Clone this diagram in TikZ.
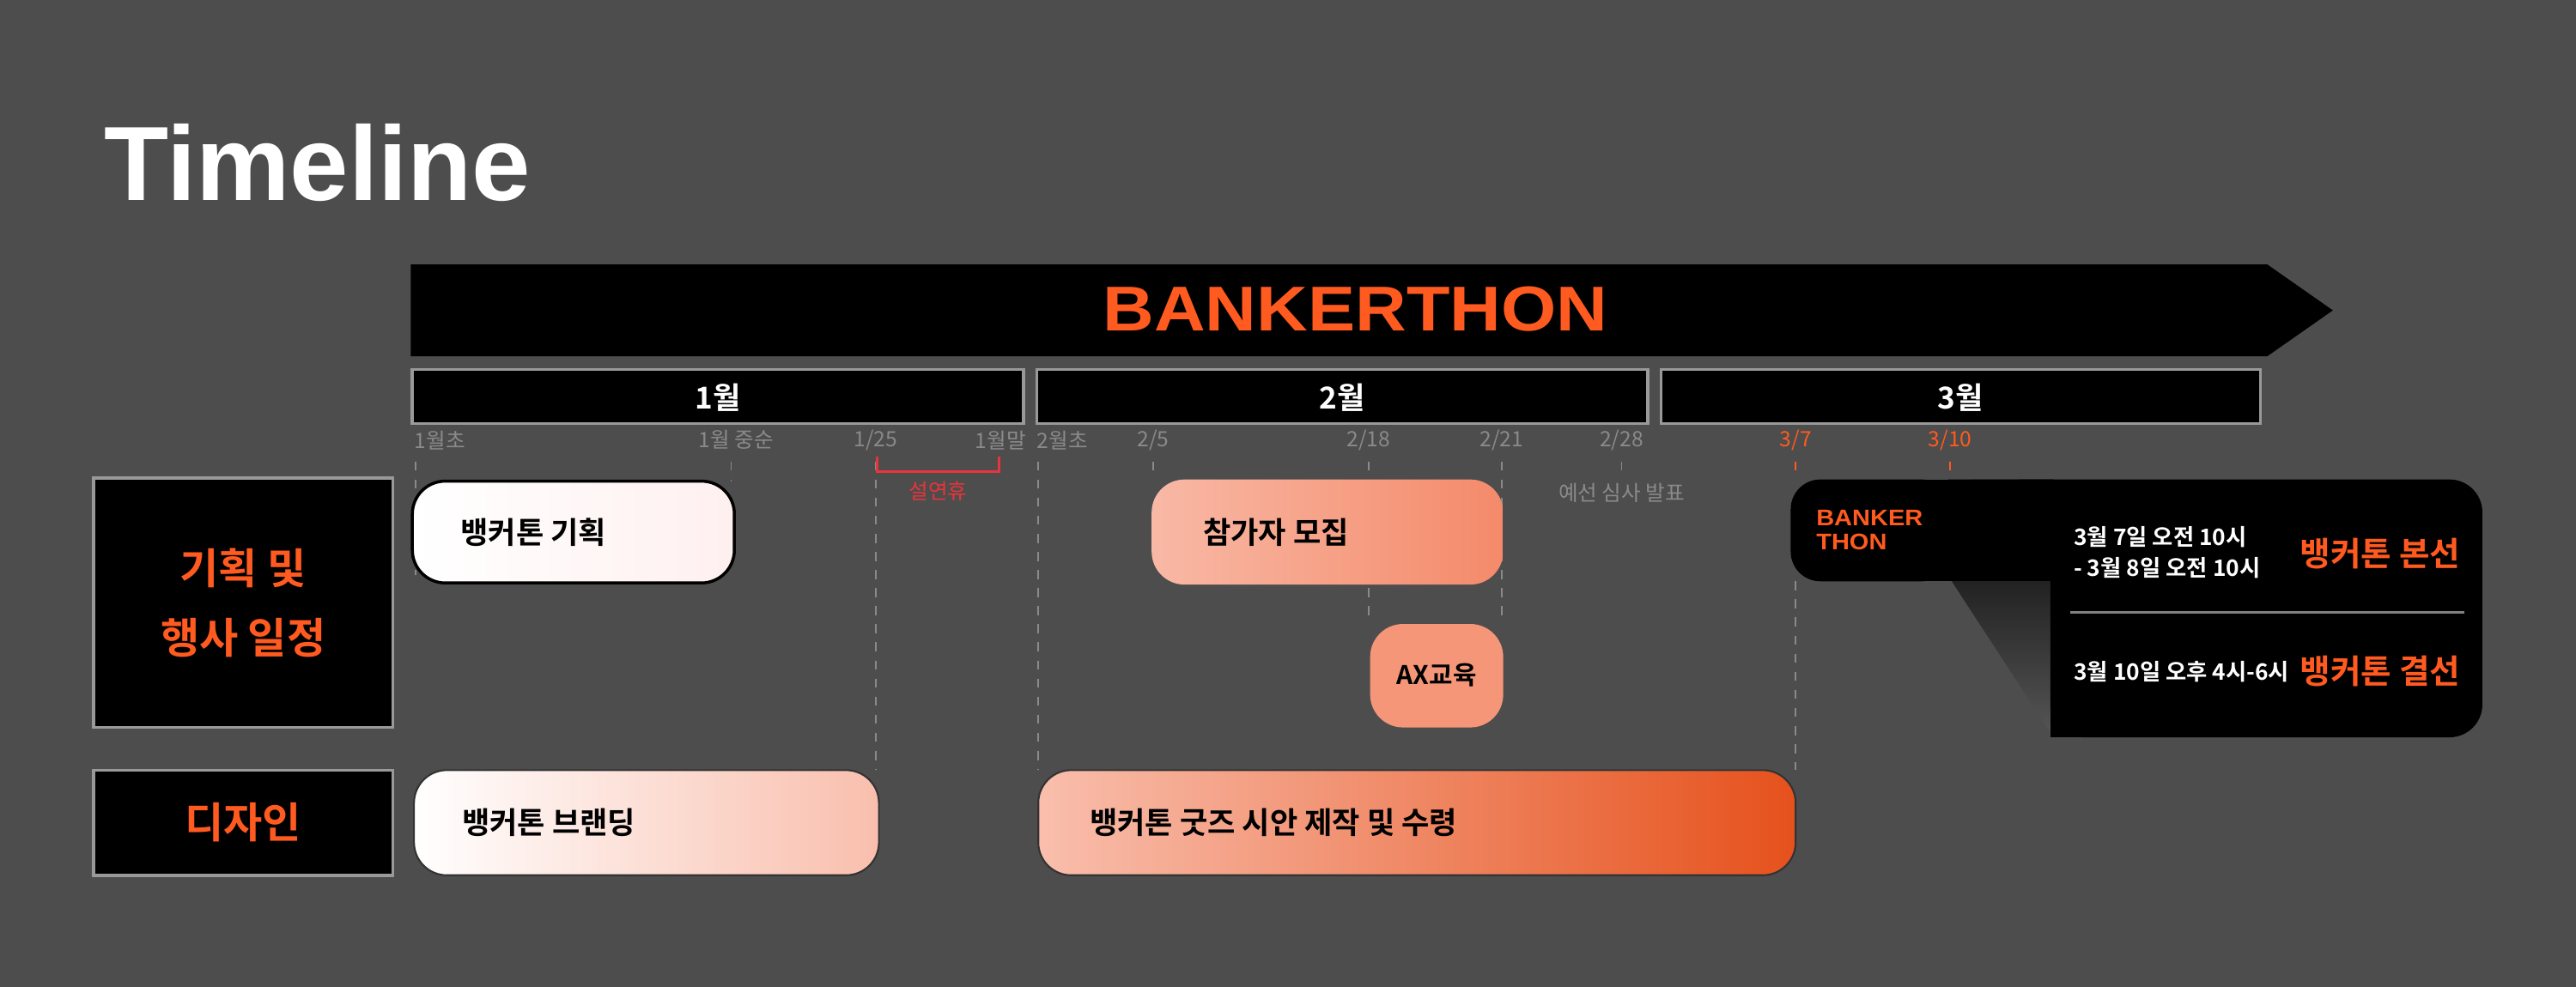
\documentclass[tikz,border=0pt]{standalone}
\usepackage{fontspec}
\setmainfont{Noto Sans CJK KR}[BoldFont={Noto Sans CJK KR Bold}]
\newfontfamily\latinbold{Liberation Sans}[Scale=1]
\usetikzlibrary{positioning}
\definecolor{bg}{HTML}{4D4D4D}
\definecolor{accent}{HTML}{FF5A1F}
\definecolor{dategray}{HTML}{8A8A8A}
\definecolor{holred}{HTML}{E8343A}
\definecolor{salmon}{HTML}{F48A6A}
\tikzset{
    pill/.style={rounded corners=20*0.01913cm, draw=black!80, line width=0.6pt},
    month/.style={draw=gray!80, line width=1pt, fill=black},
    rowlabel/.style={draw=gray!80, line width=1pt, fill=black},
    datelbl/.style={text=dategray, font=\fontsize{7}{8}\selectfont, inner sep=0},
    guide/.style={dashed, dategray, line width=0.5pt, dash pattern=on 3pt off 3pt},
    pilltext/.style={font=\fontsize{10}{12}\selectfont\bfseries, anchor=west, inner sep=0},
}
\begin{document}
\begin{tikzpicture}[x=0.01913cm, y=-0.01913cm]
    \fill[bg] (0,0) rectangle (1568,601);
    \useasboundingbox (0,0) rectangle (1568,601);

    % Title
    \node[anchor=base west, inner sep=0, text=white, font=\latinbold\bfseries\fontsize{35}{40}\selectfont]
        (title) at (63,122) {Timeline};

    % Banner
    \fill[black] (250,161) -- (1380,161) -- (1420,189) -- (1380,217) -- (250,217) -- cycle;
    \node[text=accent, font=\latinbold\bfseries\fontsize{21}{24}\selectfont, xscale=1.12]
        (banner) at (825,188) {BANKERTHON};

    % Months
    \foreach \a/\b/\m in {251/623/1, 631/1003/2, 1011/1376/3} {
        \draw[month] (\a,225) rectangle (\b,258);
        \node[text=white, font=\fontsize{10}{12}\selectfont\bfseries] (m\m) at ({(\a+\b)/2},242) {{\m}월};
    }

    % Guide lines
    \foreach \x/\e in {253/350, 445/293, 533/469, 632/469, 702/292, 833/380, 914/380, 987/292} {
        \draw[guide] (\x,281) -- (\x,\e);
    }
    \draw[guide, accent] (1093,281) -- (1093,292);
    \draw[guide] (1093,354) -- (1093,469);
    \draw[guide, accent] (1187,281) -- (1187,292);

    % Dates
    \node[datelbl, anchor=west] (d1) at (252,268) {1월초};
    \foreach \x/\t/\n in {448/{1월 중순}/d2, 533/{1/25}/d3, 609/{1월말}/d4, 702/{2/5}/d6, 833/{2/18}/d7, 914/{2/21}/d8, 987/{2/28}/d9} {
        \node[datelbl] (\n) at (\x,268) {\t};
    }
    \node[datelbl, anchor=west] (d5) at (631,268) {2월초};
    \node[datelbl, text=accent] (d10) at (1093,268) {3/7};
    \node[datelbl, text=accent] (d11) at (1187,268) {3/10};
    \node[datelbl] (final) at (987,300) {예선 심사 발표};

    % Holidays
    \draw[holred, line width=0.8pt] (534,278) -- (534,287) -- (608,287) -- (608,278);
    \node[datelbl, text=holred] (hol) at (571,299) {설연휴};

    % Row labels
    \draw[rowlabel] (57,291) rectangle (239,443);
    \node[text=accent, font=\fontsize{14}{23}\selectfont\bfseries, align=center] (plan) at (148,367) {기획 및\\행사 일정};
    \draw[rowlabel] (57,469) rectangle (239,533);
    \node[text=accent, font=\fontsize{14}{18}\selectfont\bfseries] (design) at (148,501) {디자인};

    % Planning row
    \shade[pill, left color=white, right color=red!6, draw=black, line width=1pt] (251,293) rectangle (447,355);
    \node[pilltext] (plantask) at (280,324) {뱅커톤 기획};
    \shade[pill, left color=salmon!60, right color=salmon, draw=none] (701,292) rectangle (915,356);
    \node[pilltext] (recruit) at (732,324) {참가자 모집};
    \fill[pill, salmon!90, draw=none] (834,380) rectangle (915,443);
    \node[font=\fontsize{8.5}{10}\selectfont\bfseries] (axedu) at (874.5,411) {AX교육};

    % Design row
    \shade[pill, left color=white, right color=salmon!55] (252,469) rectangle (535,533);
    \node[pilltext] (brand) at (281,501) {뱅커톤 브랜딩};
    \shade[pill, left color=salmon!55, right color=accent!90!black] (632,469) rectangle (1093,533);
    \node[pilltext] (goods) at (663,501) {뱅커톤 굿즈 시안 제작 및 수령};

    % Final box
    \shade[top color=black, bottom color=bg!95!white]
        (1186,292) -- (1250,292) -- (1250,449) -- (1188,354) -- cycle;
    \fill[black, rounded corners=20*0.01913cm] (1188,292) -- (1511,292) -- (1511,449) -- (1248,449) -- (1248,292) -- cycle;
    \fill[black, rounded corners=18*0.01913cm] (1090,292) rectangle (1188,354);
    \fill[black] (1150,292) rectangle (1250,354);
    \fill[black] (1248,420) rectangle (1270,449);
    \node[text=accent, font=\latinbold\bfseries\fontsize{7.5}{8}\selectfont, align=left, xscale=1.1]
        (logo) at (1138,323) {BANKER\\THON};
    \draw[gray, line width=1pt] (1260,373) -- (1500,373);
    \node[anchor=west, text=white, font=\fontsize{7.5}{9}\selectfont\bfseries, inner sep=0] (t1) at (1262,327) {3월 7일 오전 10시};
    \node[anchor=west, text=white, font=\fontsize{7.5}{9}\selectfont\bfseries, inner sep=0] (t2) at (1262,346) {- 3월 8일 오전 10시};
    \node[anchor=west, text=white, font=\fontsize{7.5}{9}\selectfont\bfseries, inner sep=0] (t3) at (1262,409) {3월 10일 오후 4시-6시};
    \node[anchor=east, text=accent, font=\fontsize{11}{13}\selectfont\bfseries, inner sep=0] (main) at (1498,337) {뱅커톤 본선};
    \node[anchor=east, text=accent, font=\fontsize{11}{13}\selectfont\bfseries, inner sep=0] (fin) at (1498,409) {뱅커톤 결선};
\end{tikzpicture}
\end{document}
